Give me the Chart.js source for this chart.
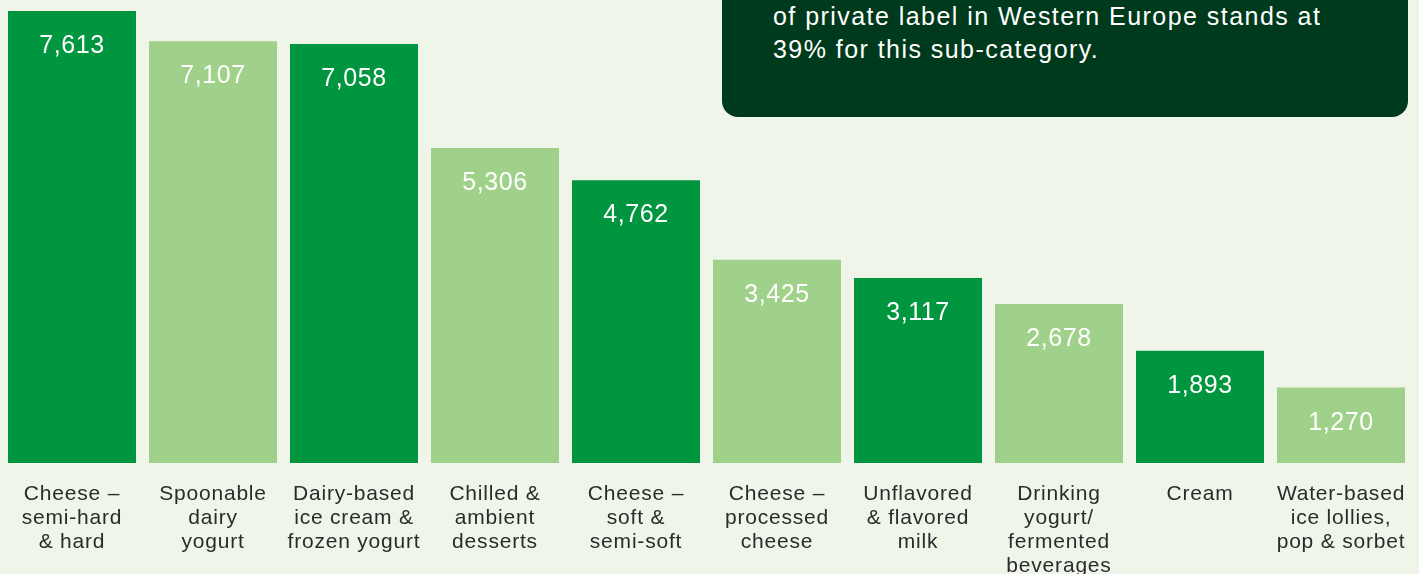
<!DOCTYPE html>
<html lang="en">
  <head>
    <meta charset="utf-8">
    <title>Dairy sub-categories</title>
    <style>
      html, body { margin: 0; padding: 0; background: #eff5e8; }
      #wrap { position: relative; width: 1419px; height: 574px; overflow: hidden; }
      #note {
        position: absolute; left: 722px; top: -200px; width: 686px; height: 317px;
        background: #003a1d; border-radius: 16px;
      }
      #note p {
        position: absolute; left: 51px; top: 200px; margin: 0;
        color: #fff; font-family: "Liberation Sans", Arial, sans-serif;
        font-size: 25px; line-height: 32.5px; letter-spacing: 1.45px;
      }
    </style>
  </head>
  <body>
    <div id="wrap">
      <canvas id="graph" width="1419" height="574"></canvas>
      <div id="note"><p>of private label in Western Europe stands at<br>39% for this sub-category.</p></div>
    </div>

    <script src="https://cdn.jsdelivr.net/npm/chart.js@4"></script>
    <script>
    // values
    var categories = [
      ['Cheese \u2013', 'semi-hard', '& hard'],
      ['Spoonable', 'dairy', 'yogurt'],
      ['Dairy-based', 'ice cream &', 'frozen yogurt'],
      ['Chilled &', 'ambient', 'desserts'],
      ['Cheese \u2013', 'soft &', 'semi-soft'],
      ['Cheese \u2013', 'processed', 'cheese'],
      ['Unflavored', '& flavored', 'milk'],
      ['Drinking', 'yogurt/', 'fermented', 'beverages'],
      ['Cream'],
      ['Water-based', 'ice lollies,', 'pop & sorbet']
    ];
    var values = [7613, 7107, 7058, 5306, 4762, 3425, 3117, 2678, 1893, 1270];
    var valueLabels = ['7,613', '7,107', '7,058', '5,306', '4,762', '3,425', '3,117', '2,678', '1,893', '1,270'];

    var dark = '#00953f', light = '#a0d18a';
    var colors = values.map(function (v, i) { return i % 2 ? light : dark; });

    var spacing = {
      id: 'spacing',
      beforeUpdate: function (chart) { chart.ctx.letterSpacing = '0.8px'; },
      beforeDraw: function (chart) { chart.ctx.letterSpacing = '0.8px'; }
    };

    var barValues = {
      id: 'barValues',
      afterDatasetsDraw: function (chart) {
        var ctx = chart.ctx;
        ctx.save();
        ctx.letterSpacing = '0.6px';
        ctx.font = '25px "Liberation Sans", Arial, sans-serif';
        ctx.fillStyle = '#ffffff';
        ctx.textAlign = 'center';
        ctx.textBaseline = 'middle';
        chart.getDatasetMeta(0).data.forEach(function (bar, i) {
          ctx.fillText(valueLabels[i], bar.x, bar.y + 35);
        });
        ctx.restore();
      }
    };

    var ctx = document.getElementById('graph').getContext('2d');
    var chart = new Chart(ctx, {
      type: 'bar',
      data: {
        labels: categories,
        datasets: [{
          data: values,
          backgroundColor: colors,
          borderWidth: 0,
          barPercentage: 128 / 141,
          categoryPercentage: 1
        }]
      },
      options: {
        responsive: false,
        animation: false,
        events: [],
        layout: { padding: { left: 1.5, right: 7.5, top: 0, bottom: 0 } },
        plugins: { legend: { display: false }, tooltip: { enabled: false } },
        scales: {
          y: { display: false, min: 0, max: 7800 },
          x: {
            grid: { display: false },
            border: { display: false },
            afterFit: function (scale) {
              scale.height = 111;
              scale.paddingLeft = 0;
              scale.paddingRight = 0;
            },
            ticks: {
              color: '#2b2b2b',
              font: { family: '"Liberation Sans", Arial, sans-serif', size: 21, lineHeight: 24 / 21 },
              padding: 11,
              maxRotation: 0,
              minRotation: 0,
              autoSkip: false
            }
          }
        }
      },
      plugins: [spacing, barValues]
    });
    </script>
  </body>
</html>
